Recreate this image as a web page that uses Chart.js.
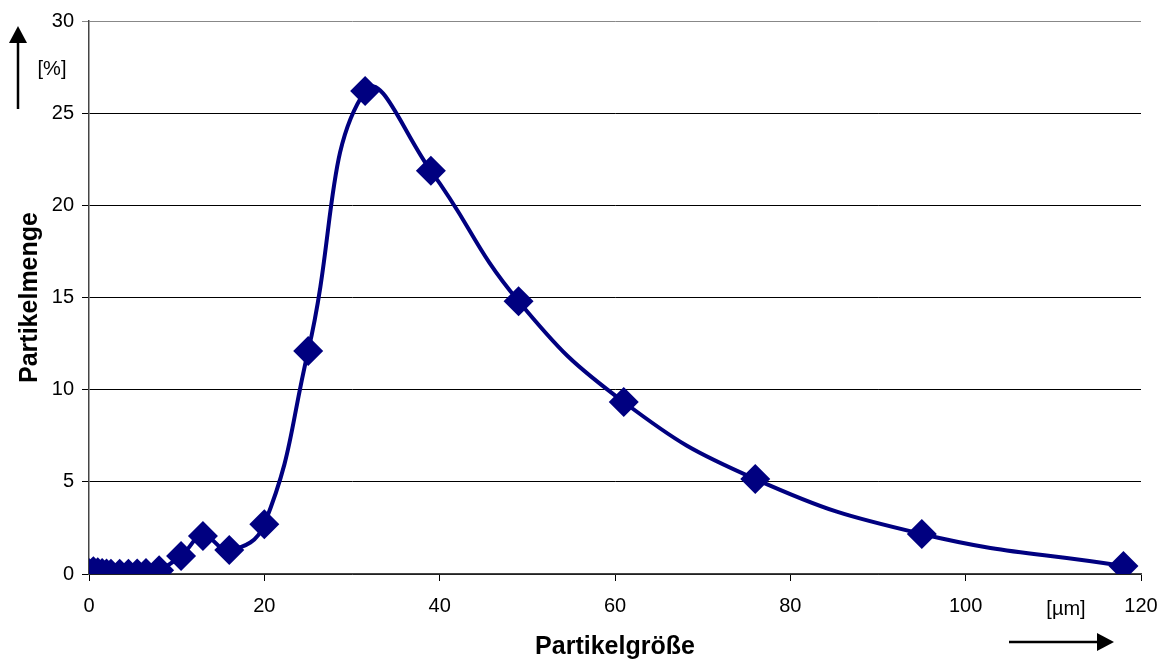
<!DOCTYPE html>
<html>
<head>
<meta charset="utf-8">
<script src="https://cdn.jsdelivr.net/npm/chart.js@4.4.0/dist/chart.umd.min.js"></script>
<style>
  html, body { margin: 0; padding: 0; background: #fff; }
  #wrap { width: 1168px; height: 660px; }
</style>
</head>
<body>
<div id="wrap"><canvas id="chart"></canvas></div>
<script>
// Partikelgrößenverteilung
const sizes   = [0, 0.5, 1, 1.5, 2, 2.5, 3.5, 4.5, 5.5, 6.5, 8, 10.5, 13, 16, 20, 25, 31.5, 39, 49, 61, 76, 95, 118];
const amounts = [0.05, 0.15, 0.1, 0.05, 0.03, 0.02, 0.02, 0.02, 0.03, 0.05, 0.2, 0.98, 2.06, 1.3, 2.7, 12.1, 26.2, 21.87, 14.8, 9.33, 5.15, 2.17, 0.43];

const navy = '#000080';
const font = 'Liberation Sans, Arial, sans-serif';

// Pfeile und Einheiten
const arrowsPlugin = {
    id: 'arrows',
    afterDraw(chart) {
        const ctx = chart.ctx;
        ctx.save();
        ctx.fillStyle = '#000';
        ctx.strokeStyle = '#000';
        ctx.lineWidth = 2.5;

        // vertical arrow
        ctx.beginPath();
        ctx.moveTo(18, 109);
        ctx.lineTo(18, 40);
        ctx.stroke();
        ctx.beginPath();
        ctx.moveTo(18, 26);
        ctx.lineTo(27, 43);
        ctx.lineTo(9, 43);
        ctx.closePath();
        ctx.fill();

        // horizontal arrow
        ctx.beginPath();
        ctx.moveTo(1009, 642);
        ctx.lineTo(1100, 642);
        ctx.stroke();
        ctx.beginPath();
        ctx.moveTo(1114, 642);
        ctx.lineTo(1097, 633);
        ctx.lineTo(1097, 651);
        ctx.closePath();
        ctx.fill();

        ctx.font = '20px ' + font;
        ctx.textAlign = 'center';
        ctx.textBaseline = 'middle';
        ctx.fillText('[%]', 52, 69);
        ctx.fillText('[µm]', 1066, 609);
        ctx.restore();
    }
};

new Chart(document.getElementById('chart'), {
    type: 'line',
    data: {
        datasets: [{
            data: sizes.map((x, i) => ({ x: x, y: amounts[i] })),
            borderColor: navy,
            backgroundColor: navy,
            borderWidth: 4,
            tension: 0.45,
            pointStyle: 'rectRot',
            pointRadius: 15,
            pointHoverRadius: 15,
            pointBorderWidth: 0,
            fill: false
        }]
    },
    options: {
        responsive: true,
        maintainAspectRatio: false,
        animation: false,
        layout: {
            padding: { left: 0, right: 27, top: 21, bottom: 0 }
        },
        plugins: {
            legend: { display: false },
            tooltip: { enabled: false }
        },
        scales: {
            x: {
                type: 'linear',
                min: 0,
                max: 120,
                ticks: {
                    stepSize: 20,
                    padding: 13,
                    color: '#000',
                    font: { family: font, size: 20 }
                },
                grid: {
                    drawOnChartArea: false,
                    drawTicks: true,
                    tickLength: 7,
                    color: '#000'
                },
                border: { color: '#444', width: 1.5 },
                title: {
                    display: true,
                    text: 'Partikelgröße',
                    color: '#000',
                    font: { family: font, size: 25, weight: 'bold' },
                    padding: { top: 0, bottom: -2 }
                },
                afterFit(scale) {
                    scale.height = 86;
                    scale.paddingLeft = 0;
                    scale.paddingRight = 0;
                }
            },
            y: {
                min: 0,
                max: 30,
                ticks: {
                    stepSize: 5,
                    padding: 8,
                    color: '#000',
                    font: { family: font, size: 20 }
                },
                grid: {
                    drawTicks: true,
                    tickLength: 7,
                    color: ctx => ctx.tick && ctx.tick.value === 30 ? '#888' : '#000',
                    lineWidth: 1
                },
                border: { color: '#444', width: 1.5 },
                title: {
                    display: true,
                    text: 'Partikelmenge',
                    color: '#000',
                    font: { family: font, size: 25, weight: 'bold' },
                    padding: { top: 15, bottom: 0 }
                },
                afterFit(scale) {
                    scale.width = 89;
                    scale.paddingTop = 0;
                    scale.paddingBottom = 0;
                }
            }
        }
    },
    plugins: [arrowsPlugin]
});
</script>
</body>
</html>
